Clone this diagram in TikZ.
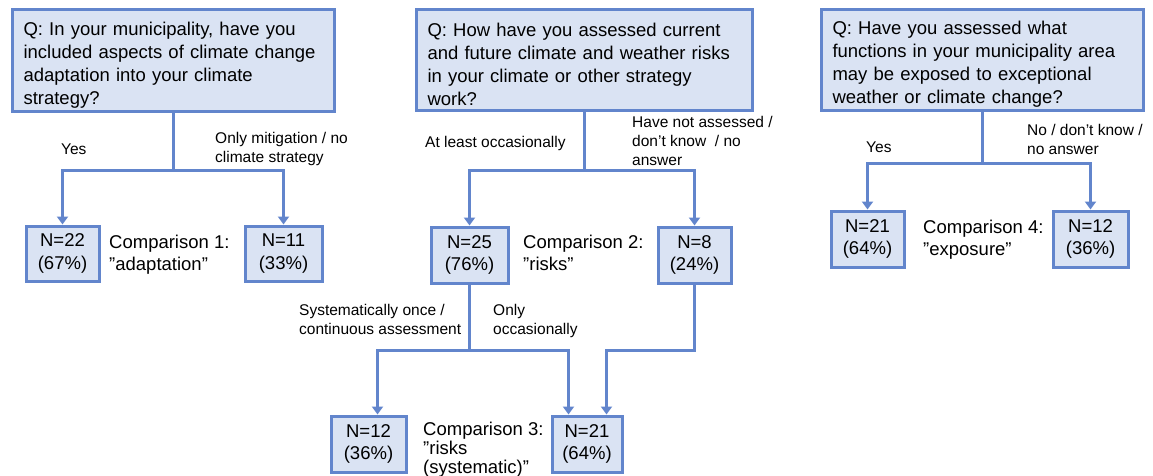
\documentclass[tikz,border=0pt]{standalone}
\usepackage{fontspec}
\setmainfont{Liberation Sans}
\usetikzlibrary{arrows.meta}
\definecolor{lineblue}{RGB}{98,133,204}
\definecolor{fillblue}{RGB}{218,227,243}
\newcommand{\qstrut}{\rule{0pt}{21.5pt}}
\begin{document}
\begin{tikzpicture}[x=1pt,y=-1pt,
  qbox/.style={draw=lineblue, line width=3pt, fill=fillblue, anchor=north west, inner xsep=11.5pt, inner ysep=0pt, align=left, font=\fontsize{18.5}{23}\selectfont},
  nbox/.style={draw=lineblue, line width=3pt, fill=fillblue, anchor=north west, inner sep=0pt, align=center, font=\fontsize{18.5}{22.5}\selectfont},
  lbl/.style={anchor=base west, inner sep=0pt, align=left, font=\fontsize{15.5}{19}\selectfont},
  cmp/.style={anchor=base west, inner sep=0pt, align=left, font=\fontsize{18.5}{22}\selectfont},
  conn/.style={draw=lineblue, line width=3pt},
  arr/.style={conn, -{Triangle[length=8pt,width=11pt]}},
]
\useasboundingbox (0,0) rectangle (1153,476);

% question boxes
\node[qbox, text width=299pt, minimum width=322pt, minimum height=102pt] (q1) at (10.5,8.5)
  {\qstrut Q: In your municipality, have you\\included aspects of climate change\\adaptation into your climate\\strategy?};
\node[qbox, text width=313pt, minimum width=336pt, minimum height=101pt] (q2) at (414.5,8.5)
  {\qstrut Q: How have you assessed current\\and future climate and weather risks\\in your climate or other strategy\\work?};
\node[qbox, text width=299pt, minimum width=322pt, minimum height=101pt] (q3) at (819.5,8.5)
  {\qstrut Q: Have you assessed what\\functions in your municipality area\\may be exposed to exceptional\\weather or climate change?};

% result boxes
\node[nbox, minimum width=73pt, minimum height=55pt] (n22) at (24.5,224.5) {N=22\\(67\%)};
\node[nbox, minimum width=77pt, minimum height=55pt] (n11) at (243.5,224.5) {N=11\\(33\%)};
\node[nbox, minimum width=77pt, minimum height=56pt] (n25) at (429.5,225.5) {N=25\\(76\%)};
\node[nbox, minimum width=73pt, minimum height=56pt] (n8) at (656.5,225.5) {N=8\\(24\%)};
\node[nbox, minimum width=75pt, minimum height=56pt] (n12b) at (329.5,414.5) {N=12\\(36\%)};
\node[nbox, minimum width=70pt, minimum height=56pt] (n21b) at (550.5,414.5) {N=21\\(64\%)};
\node[nbox, minimum width=73pt, minimum height=56pt] (n21r) at (829.5,209.5) {N=21\\(64\%)};
\node[nbox, minimum width=75pt, minimum height=56pt] (n12r) at (1051.5,209.5) {N=12\\(36\%)};

% connectors
\path (q1.south) ++(0,56.5) coordinate (j1);
\draw[conn] (q1.south) -- (j1);
\draw[arr] (j1) -| (n22.north);
\draw[arr] (j1) -| (n11.north);

\path (q2.south) ++(0,57.5) coordinate (j2);
\draw[conn] (q2.south) -- (j2);
\draw[arr] (j2) -| (n25.north);
\draw[arr] (j2) -| (n8.north);

\path (n25.south) ++(0,66) coordinate (j3);
\draw[conn] (n25.south) -- (j3);
\draw[arr] (j3) -| ([xshift=9pt]n12b.north);
\draw[arr] (j3) -| ([xshift=-18.5pt]n21b.north);
\draw[arr] (n8.south) -- (n8.south |- j3) -| ([xshift=19.5pt]n21b.north);

\path (q3.south) ++(0,50.5) coordinate (j4);
\draw[conn] (q3.south) -- (j4);
\draw[arr] (j4) -| (n21r.north);
\draw[arr] (j4) -| (n12r.north);

% branch labels (anchor = baseline of last line)
\node[lbl] (l1a) at (61,154) {Yes};
\node[lbl] (l1b) at (215,162) {Only mitigation / no\\climate strategy};
\node[lbl] (l2a) at (425,147) {At least occasionally};
\node[lbl] (l2b) at (632,165) {Have not assessed /\\don't know\ \ / no\\answer};
\node[lbl] (l3a) at (299,334) {Systematically once /\\continuous assessment};
\node[lbl] (l3b) at (493,334) {Only\\occasionally};
\node[lbl] (l4a) at (866,152) {Yes};
\node[lbl] (l4b) at (1027,154) {No / don't know /\\no answer};

% comparison labels
\node[cmp] (c1) at (109,270) {Comparison 1:\\”adaptation”};
\node[cmp] (c2) at (523,270) {Comparison 2:\\”risks”};
\node[cmp, font=\fontsize{18.5}{19}\selectfont] (c3) at (423,473) {Comparison 3:\\”risks\\(systematic)”};
\node[cmp] (c4) at (923,255) {Comparison 4:\\”exposure”};
\end{tikzpicture}
\end{document}
